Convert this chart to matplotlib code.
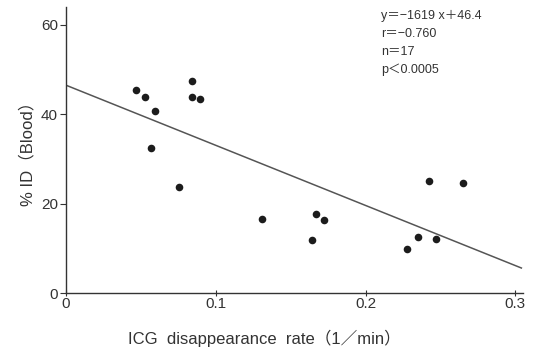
import numpy as np
import matplotlib.pyplot as plt

plt.rcParams['font.family'] = ['Liberation Sans', 'Noto Sans CJK JP', 'DejaVu Sans']

# ICG disappearance rate (1/min) vs %ID in blood
icg_rate = [0.0465, 0.0525, 0.0838, 0.0838, 0.0895, 0.0591, 0.0567, 0.0751,
            0.131, 0.167, 0.172, 0.164, 0.242, 0.265, 0.235, 0.247, 0.2275]
pct_id = [45.4, 43.9, 47.5, 43.9, 43.4, 40.7, 32.5, 23.7,
          16.6, 17.8, 16.3, 11.8, 25.1, 24.6, 12.5, 12.0, 9.8]

# regression line as drawn
fit_slope = -134.5
fit_intercept = 46.5
fit_range = [0.0, 0.304]

stats_lines = ["y＝−1619 x＋46.4", "r＝−0.760", "n＝17", "p＜0.0005"]

xticks = [0, 0.1, 0.2, 0.3]
xticklabels = ["0", "0.1", "0.2", "0.3"]
yticks = [0, 20, 40, 60]

fig = plt.figure(figsize=(5.33, 3.51), dpi=100)
ax = fig.add_axes([0.124, 0.165, 0.857, 0.815])

ax.scatter(icg_rate, pct_id, s=30, color="#1c1c1c", zorder=3, linewidths=0)

fx = np.array(fit_range)
ax.plot(fx, fit_slope * fx + fit_intercept, color="#555555", lw=1.1)

ax.set_xlim(0, 0.305)
ax.set_ylim(0, 64)
ax.spines["top"].set_visible(False)
ax.spines["right"].set_visible(False)
for s in ["left", "bottom"]:
    ax.spines[s].set_color("#333333")
    ax.spines[s].set_linewidth(1.0)

ax.set_xticks(xticks)
ax.set_xticklabels(xticklabels)
ax.set_yticks(yticks)
ax.tick_params(axis="y", direction="out", length=4, color="#333333",
               labelsize=11, labelcolor="#333333", pad=2)
ax.tick_params(axis="x", direction="inout", length=4, color="#333333",
               labelsize=11, labelcolor="#333333", pad=1)

ax.set_xlabel("ICG  disappearance  rate（1／min）", fontsize=12,
              color="#333333")
ax.xaxis.set_label_coords(0.435, -0.128)
ax.set_ylabel("% ID（Blood）", fontsize=12, color="#333333", labelpad=4)

for i, t in enumerate(stats_lines):
    fig.text(0.715, 0.954 - i * 0.0505, t, fontsize=9, color="#333333",
             va="center", ha="left")

fig.savefig("out.png", dpi=100)
